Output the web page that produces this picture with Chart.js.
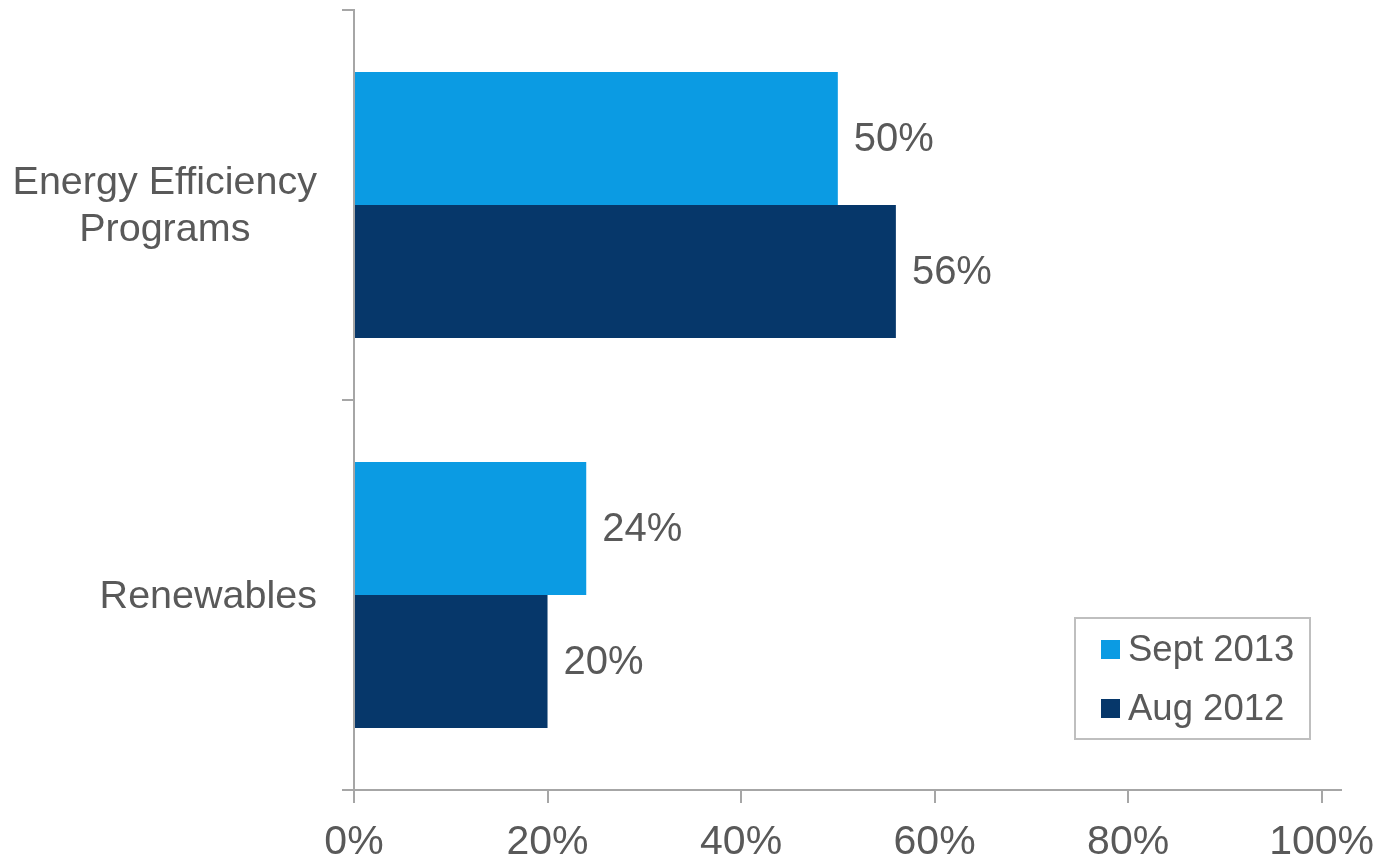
<!DOCTYPE html>
<html>
<head>
<meta charset="utf-8">
<script src="https://cdn.jsdelivr.net/npm/chart.js@4/dist/chart.umd.min.js"></script>
<style>
  html, body { margin: 0; padding: 0; background: #fff; }
  #wrap { width: 1382px; height: 861px; }
</style>
</head>
<body>
<div id="wrap"><canvas id="myChart"></canvas></div>
<script>
var categories = [['Energy Efficiency', 'Programs'], ['Renewables']];
var seriesNames = ['Sept 2013', 'Aug 2012'];
var sept2013 = [50, 24];
var aug2012 = [56, 20];
var tickValues = [0, 20, 40, 60, 80, 100];

var textColor = '#595959';
var axisColor = '#a6a6a6';
var fontFamily = '"Liberation Sans", Arial, sans-serif';

// value labels at the end of each bar
var valueLabels = {
    id: 'valueLabels',
    afterDatasetsDraw: function (chart) {
        var ctx = chart.ctx;
        ctx.save();
        ctx.font = '40px ' + fontFamily;
        ctx.fillStyle = textColor;
        ctx.textAlign = 'left';
        ctx.textBaseline = 'middle';
        chart.data.datasets.forEach(function (ds, i) {
            chart.getDatasetMeta(i).data.forEach(function (bar, j) {
                ctx.fillText(ds.data[j] + '%', bar.x + 16, bar.y + 1);
            });
        });
        ctx.restore();
    }
};

// category labels: block right aligned, lines centred inside the block
var categoryLabels = {
    id: 'categoryLabels',
    afterDraw: function (chart) {
        var ctx = chart.ctx;
        var y = chart.scales.y;
        var right = chart.chartArea.left - 12 - 25;
        var lineH = 47;
        ctx.save();
        ctx.font = '39.5px ' + fontFamily;
        ctx.fillStyle = textColor;
        ctx.textAlign = 'center';
        ctx.textBaseline = 'middle';
        chart.data.labels.forEach(function (lines, i) {
            var w = 0;
            lines.forEach(function (l) { w = Math.max(w, ctx.measureText(l).width); });
            var cy = y.getPixelForValue(i) + 2;
            var top = cy - (lines.length - 1) * lineH / 2;
            lines.forEach(function (l, k) {
                ctx.fillText(l, right - w / 2, top + k * lineH);
            });
        });
        ctx.restore();
    }
};

// boxed legend inside the plot area
var boxLegend = {
    id: 'boxLegend',
    afterDraw: function (chart) {
        var ctx = chart.ctx;
        var area = chart.chartArea;
        var w = 235, h = 121;
        var bx = area.right - 31 - w;
        var by = area.bottom - 51 - h;
        ctx.save();
        ctx.fillStyle = '#fff';
        ctx.fillRect(bx, by, w, h);
        ctx.strokeStyle = '#bfbfbf';
        ctx.lineWidth = 2;
        ctx.strokeRect(bx, by, w, h);
        ctx.font = '36.5px ' + fontFamily;
        ctx.textAlign = 'left';
        ctx.textBaseline = 'middle';
        chart.data.datasets.forEach(function (ds, i) {
            var cy = by + 32 + i * 59;
            ctx.fillStyle = ds.backgroundColor;
            ctx.fillRect(bx + 26, cy - 10, 19, 19);
            ctx.fillStyle = textColor;
            ctx.fillText(ds.label, bx + 53, cy + 1);
        });
        ctx.restore();
    }
};

function createChart() {
    var ctx = document.getElementById('myChart').getContext('2d');
    return new Chart(ctx, {
        type: 'bar',
        data: {
            labels: categories,
            datasets: [{
                label: seriesNames[0],
                data: sept2013,
                backgroundColor: '#0b9be3'
            }, {
                label: seriesNames[1],
                data: aug2012,
                backgroundColor: '#06376a'
            }]
        },
        options: {
            indexAxis: 'y',
            responsive: true,
            maintainAspectRatio: false,
            animation: false,
            categoryPercentage: 0.682,
            barPercentage: 1,
            layout: { padding: { top: 10, left: 342, right: 41, bottom: 0 } },
            plugins: {
                legend: { display: false },
                tooltip: { enabled: false }
            },
            scales: {
                x: {
                    min: 0,
                    max: 102,
                    afterBuildTicks: function (scale) {
                        scale.ticks = tickValues.map(function (v) { return { value: v }; });
                    },
                    afterFit: function (scale) {
                        scale.height = 71;
                        scale.paddingLeft = 0;
                        scale.paddingRight = 0;
                    },
                    border: { color: axisColor, width: 2 },
                    grid: { drawOnChartArea: false, tickLength: 13, color: axisColor, lineWidth: 2 },
                    ticks: {
                        padding: 15,
                        color: textColor,
                        font: { family: fontFamily, size: 41 },
                        maxRotation: 0,
                        callback: function (v) { return v + '%'; }
                    }
                },
                y: {
                    border: { color: axisColor, width: 2 },
                    grid: { drawOnChartArea: false, tickLength: 12, color: axisColor, lineWidth: 2 },
                    ticks: { display: false }
                }
            }
        },
        plugins: [valueLabels, categoryLabels, boxLegend]
    });
}

document.addEventListener('DOMContentLoaded', function () {
    createChart();
});
</script>
</body>
</html>
